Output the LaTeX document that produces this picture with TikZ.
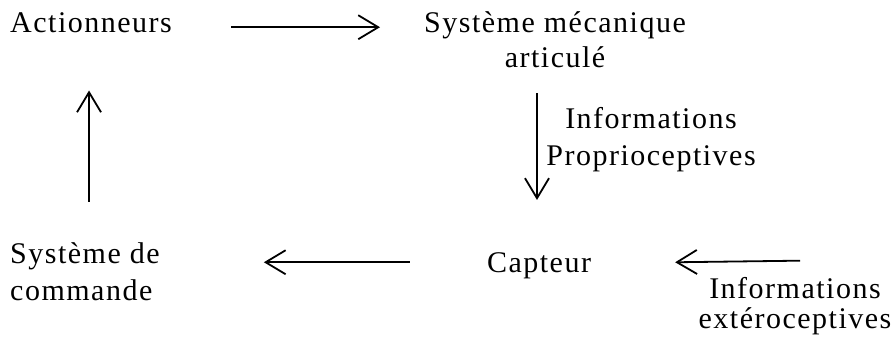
\documentclass[tikz,border=0pt]{standalone}
\usepackage{fontspec}
\setmainfont{Liberation Serif}[LetterSpace=5]
\usetikzlibrary{arrows.meta,calc}
\begin{document}
\begin{tikzpicture}[x=1pt,y=-1pt,
  lbl/.style={inner sep=0pt, font=\fontsize{30}{35}\selectfont},
  arr/.style={line width=1.8pt, -{Straight Barb[length=20pt,width=24pt]}}]
\path[use as bounding box] (0,0) rectangle (894,345);
% nodes (multi-line nodes: base anchor = last line's baseline)
\node[lbl, anchor=base west] (act) at (10,33) {Actionneurs};
\node[lbl, anchor=base, align=center] (sys) at (555,67) {Système mécanique\\articulé};
\node[lbl, anchor=base, align=center, font=\fontsize{30}{37}\selectfont] (prop) at (651,165) {Informations\\Proprioceptives};
\node[lbl, anchor=base] (capt) at (539,272) {Capteur};
\node[lbl, anchor=base west, align=left, font=\fontsize{30}{37}\selectfont] (cmd) at (10,300) {Système de\\commande};
\node[lbl, anchor=base, align=center, font=\fontsize{30}{30}\selectfont] (ext) at (795,328) {Informations\\extéroceptives};
% connectors
\draw[arr] ($(act.east)+(59,4)$) -- ($(act.east -| sys.west)+(-44,4)$);
\draw[arr] ($(sys.south -| capt.north)+(-2,26)$) -- ($(capt.north)+(-2,-52)$);
\draw[arr] ($(capt.west)+(-77,-3)$) -- ($(capt.west -| cmd.east)+(104,-3)$);
\draw[arr] ($(ext.north)+(5,-16)$) -- ($(capt.east)+(84,-3)$);
\draw[arr] ($(cmd.north -| act.south)+(-2,-40)$) -- ($(act.south)+(-2,57)$);
\end{tikzpicture}
\end{document}
